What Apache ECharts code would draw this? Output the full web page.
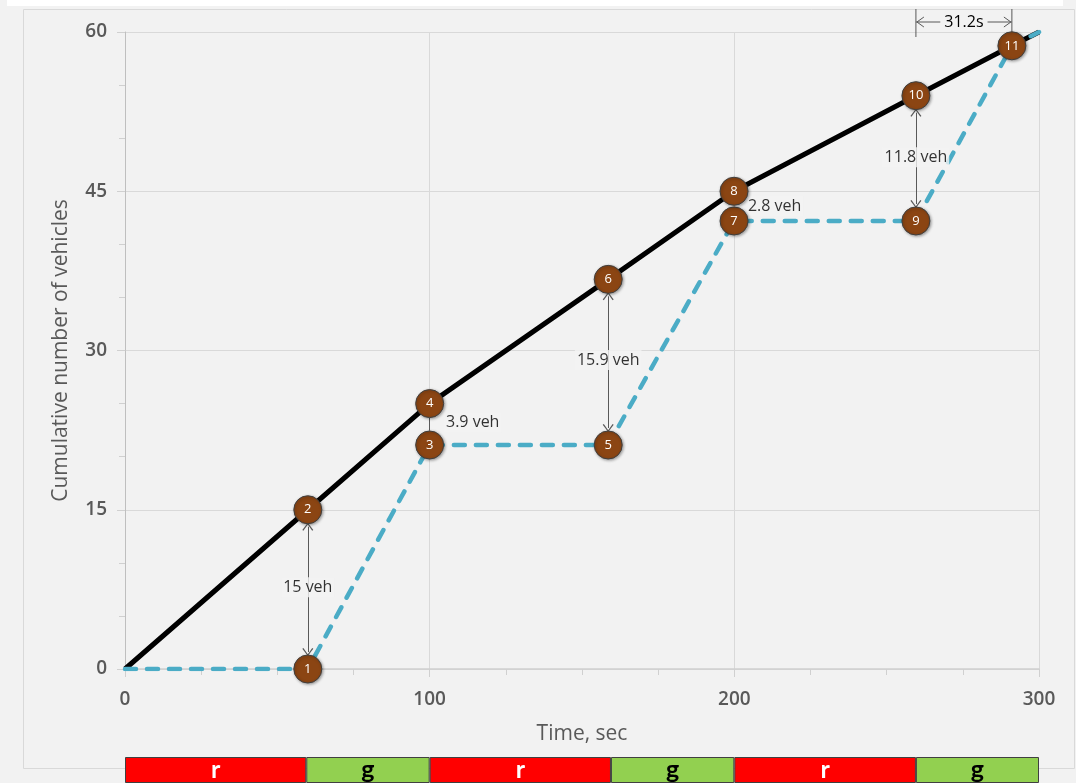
<!DOCTYPE html>
<html>
<head>
<meta charset="utf-8">
<script src="https://cdn.jsdelivr.net/npm/echarts@6/dist/echarts.min.js"></script>
<style>
  html, body { margin: 0; padding: 0; background: #f2f2f2; }
  #queue { width: 1076px; height: 783px; }
</style>
</head>
<body>
<div id="queue"></div>
<script>
// arrivals (black) and departures (blue dashed)
const arrTime = [0, 60, 100, 158.6, 199.9, 259.6, 291.1, 300];
const arrCount = [0, 15, 25, 36.7, 45, 54, 58.7, 60];
const depTime = [0, 60, 100, 158.6, 199.9, 259.6, 291.1, 300];
const depCount = [0, 0, 21.1, 21.1, 42.2, 42.2, 58.7, 60];

// numbered points
const pointIds = [1, 2, 3, 4, 5, 6, 7, 8, 9, 10, 11];
const pointX = [60, 60, 100, 100, 158.6, 158.6, 199.9, 199.9, 259.6, 259.6, 291.1];
const pointY = [0, 15, 21.1, 25, 21.1, 36.7, 42.2, 45, 42.2, 54, 58.7];

// queue length annotations
const gapText = ['15 veh', '3.9 veh', '15.9 veh', '2.8 veh', '11.8 veh'];
const gapTextX = [60, 104.7, 158.6, 203.8, 259.6];
const gapTextY = [7.7, 23.2, 29.1, 43.6, 48.2];
const gapTextAlign = ['center', 'left', 'center', 'left', 'center'];
const arrowPairs = [[0, 1], [4, 5], [8, 9]];   // point index low -> high
const plainPairs = [[2, 3]];

// top delay annotation
const delayText = '31.2s';
const delayFrom = 259.6;
const delayTo = 291.1;

// signal phases
const phaseName = ['r', 'g', 'r', 'g', 'r', 'g'];
const phaseDur = [59.5, 40.5, 59.5, 40.5, 59.6, 40.4];

const FONT = '"Open Sans", "Noto Sans", sans-serif';
const gray = '#595959';
const chev = 'path://M0,9L5,0L10,9L9,10L5,2.2L1,10Z';
const tipGap = 1.6;   // data units between circle centre and arrow end
const segGap = 1.35;

let chart = echarts.init(document.getElementById('queue'));

let arrowData = arrowPairs.map(p => [
  { coord: [pointX[p[0]], pointY[p[0]] + tipGap] },
  { coord: [pointX[p[1]], pointY[p[1]] - tipGap] }
]);
let plainData = plainPairs.map(p => [
  { coord: [pointX[p[0]], pointY[p[0]] + segGap], symbol: 'none' },
  { coord: [pointX[p[1]], pointY[p[1]] - segGap], symbol: 'none' }
]);

let phaseSeries = phaseName.map((n, i) => ({
  type: 'bar',
  xAxisIndex: 2,
  yAxisIndex: 2,
  stack: 'sig',
  barWidth: '100%',
  data: [phaseDur[i]],
  itemStyle: {
    color: n === 'r' ? '#ff0000' : '#92d050',
    borderColor: '#404040',
    borderWidth: 1
  },
  label: {
    show: true,
    position: 'inside',
    formatter: n,
    fontFamily: 'Lato, "Noto Sans", sans-serif',
    fontWeight: 'bold',
    fontSize: 25,
    color: n === 'r' ? '#ffffff' : '#000000'
  },
  silent: true
}));

chart.setOption({
  backgroundColor: '#f2f2f2',
  animation: false,
  grid: [
    { left: 125, right: 37, top: 32, bottom: 114 },
    { left: 125, right: 37, top: 757, height: 32 }
  ],
  xAxis: [
    {
      type: 'value', gridIndex: 0, min: 0, max: 300, interval: 100,
      axisLine: { lineStyle: { color: '#d0d0d0', width: 1.5 } },
      axisTick: { show: true, length: 8, lineStyle: { color: '#d0d0d0' } },
      splitLine: { show: true, lineStyle: { color: '#d9d9d9' } },
      axisLabel: { fontFamily: FONT, fontSize: 19, fontWeight: 600, color: gray, margin: 21 },
      name: 'Time, sec', nameLocation: 'middle', nameGap: 55,
      nameTextStyle: { fontFamily: FONT, fontSize: 21, color: gray }
    },
    {
      type: 'value', gridIndex: 0, min: 0, max: 300, interval: 25,
      axisLine: { show: false },
      axisTick: { show: true, inside: true, length: 6, lineStyle: { color: '#d0d0d0' } },
      splitLine: { show: false },
      axisLabel: { show: false }
    },
    { type: 'value', gridIndex: 1, min: 0, max: 300, show: false }
  ],
  yAxis: [
    {
      type: 'value', gridIndex: 0, min: 0, max: 60, interval: 15,
      axisLine: { show: true, lineStyle: { color: '#bfbfbf' } },
      axisTick: { show: true, length: 8, lineStyle: { color: '#d0d0d0' } },
      splitLine: { show: true, lineStyle: { color: '#d9d9d9' } },
      axisLabel: { fontFamily: FONT, fontSize: 19, fontWeight: 600, color: gray, margin: 18 },
      name: 'Cumulative number of vehicles', nameLocation: 'middle', nameGap: 53,
      nameTextStyle: { fontFamily: FONT, fontSize: 21, color: gray }
    },
    {
      type: 'value', gridIndex: 0, min: 0, max: 60, interval: 5,
      axisLine: { show: false },
      axisTick: { show: true, inside: true, length: 6, lineStyle: { color: '#d0d0d0' } },
      splitLine: { show: false },
      axisLabel: { show: false }
    },
    { type: 'category', gridIndex: 1, data: ['signal'], show: false }
  ],
  series: [
    {
      name: 'arrivals',
      type: 'line',
      data: arrTime.map((t, i) => [t, arrCount[i]]),
      symbol: 'none',
      lineStyle: { color: '#000000', width: 5 },
      z: 3,
      silent: true
    },
    {
      name: 'departures',
      type: 'line',
      data: depTime.map((t, i) => [t, depCount[i]]),
      symbol: 'none',
      lineStyle: { color: '#4bacc6', width: 4.5, type: [11, 11], cap: 'round' },
      z: 4,
      silent: true
    },
    {
      name: 'arrows',
      type: 'line',
      data: [],
      z: 5,
      markLine: {
        silent: true,
        symbol: [chev, chev],
        symbolSize: [11, 8],
        lineStyle: { color: '#595959', width: 1, type: 'solid' },
        label: { show: false },
        data: arrowData.concat(plainData)
      }
    },
    {
      name: 'gapText',
      type: 'scatter',
      symbolSize: 0,
      z: 6,
      silent: true,
      data: gapText.map((s, i) => ({
        value: [gapTextX[i], gapTextY[i]],
        label: { align: gapTextAlign[i] }
      })),
      label: {
        show: true,
        position: 'inside',
        formatter: p => gapText[p.dataIndex],
        fontFamily: FONT,
        fontSize: 16,
        color: '#000000',
        backgroundColor: '#f2f2f2',
        padding: [2, 2]
      }
    },
    {
      name: 'points',
      type: 'scatter',
      z: 8,
      silent: true,
      symbolSize: 28,
      data: pointIds.map((id, i) => [pointX[i], pointY[i], id]),
      itemStyle: {
        color: '#8b4513',
        borderColor: '#3f3f3f',
        borderWidth: 1,
        shadowBlur: 3,
        shadowColor: 'rgba(0,0,0,0.35)',
        shadowOffsetX: 1,
        shadowOffsetY: 1,
        opacity: 1
      },
      label: {
        show: true,
        position: 'inside',
        formatter: p => p.value[2],
        fontFamily: FONT,
        fontSize: 13,
        color: '#ffffff'
      }
    }
  ].concat(phaseSeries)
});

// delay annotation above the plot + panel frame
let xa = chart.convertToPixel({ xAxisIndex: 0 }, delayFrom);
let xb = chart.convertToPixel({ xAxisIndex: 0 }, delayTo);
let yTop = chart.convertToPixel({ yAxisIndex: 0 }, 60);
let ya = yTop - 10;
let lineStyle = { stroke: '#595959', lineWidth: 1 };
chart.setOption({
  graphic: [
    { type: 'rect', silent: true, z: -1, shape: { x: 7, y: 0, width: 1056, height: 6 }, style: { fill: '#ffffff' } },
    { type: 'rect', silent: true, z: -1, shape: { x: 23.5, y: 9.5, width: 1051, height: 759 }, style: { fill: null, stroke: '#d9d9d9', lineWidth: 1 } },
    { type: 'line', silent: true, shape: { x1: xa, y1: yTop - 23, x2: xa, y2: yTop + 5 }, style: lineStyle },
    { type: 'line', silent: true, shape: { x1: xb, y1: yTop - 23, x2: xb, y2: yTop }, style: lineStyle },
    { type: 'line', silent: true, shape: { x1: xa, y1: ya, x2: xb, y2: ya }, style: lineStyle },
    { type: 'polyline', silent: true, shape: { points: [[xa + 8, ya - 5], [xa + 1, ya], [xa + 8, ya + 5]] }, style: lineStyle },
    { type: 'polyline', silent: true, shape: { points: [[xb - 8, ya - 5], [xb - 1, ya], [xb - 8, ya + 5]] }, style: lineStyle },
    {
      type: 'text', silent: true, z: 10,
      x: (xa + xb) / 2, y: ya,
      style: {
        text: delayText, fontFamily: FONT, fontSize: 16, fill: '#000000',
        align: 'center', verticalAlign: 'middle',
        backgroundColor: '#f2f2f2', padding: [1, 4]
      }
    }
  ]
});
</script>
</body>
</html>
